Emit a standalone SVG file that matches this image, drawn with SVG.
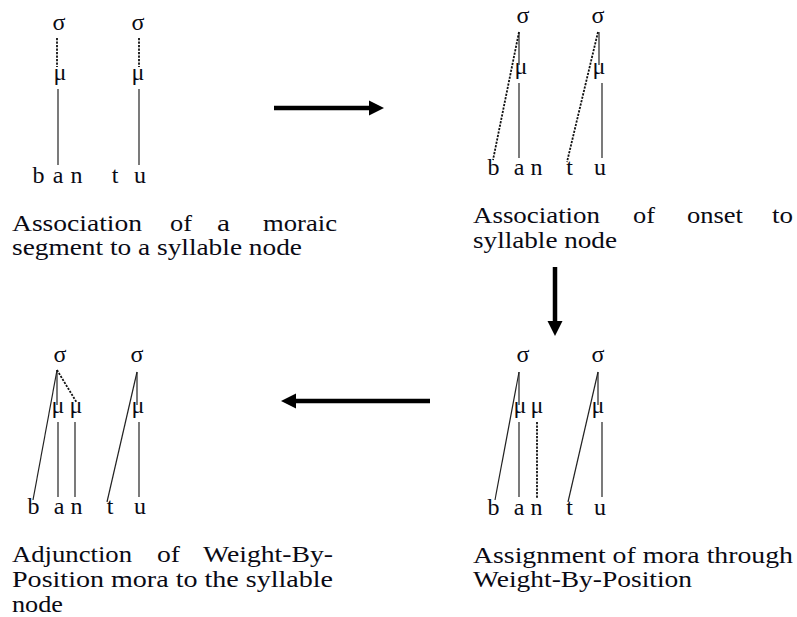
<svg xmlns="http://www.w3.org/2000/svg" width="797" height="617" viewBox="0 0 797 617">
<style>
text{font-family:"Liberation Serif","Times New Roman",Times,Tinos,"Noto Serif","Nimbus Roman","Nimbus Roman No9 L",FreeSerif,"DejaVu Serif",serif;fill:#0a0a14}
.s{font-size:24px;text-anchor:middle}
.c{font-size:24px}
.l{stroke:#222;stroke-width:1.2;fill:none}
.d{stroke:#111;stroke-width:1.8;stroke-dasharray:2.2 1.3;fill:none}
.a{stroke:#000;stroke-width:4.5;fill:none}
</style>
<defs>
<marker id="ah" markerUnits="userSpaceOnUse" markerWidth="16" markerHeight="16" refX="2" refY="8" orient="auto">
<path d="M0,0.5 L15,8 L0,15.5 Z" fill="#000"/>
</marker>
</defs>
<rect width="797" height="617" fill="#fff"/>

<g id="panel1">
<text class="s" x="59" y="30">σ</text>
<text class="s" x="138" y="30">σ</text>
<text class="s" x="60" y="80">μ</text>
<text class="s" x="138" y="80">μ</text>
<line class="d" x1="57" y1="38" x2="57" y2="67"/>
<line class="d" x1="139" y1="38" x2="139" y2="67"/>
<line class="l" x1="58" y1="89" x2="58" y2="165"/>
<line class="l" x1="139" y1="89" x2="139" y2="165"/>
<text class="s" x="38.5" y="183">b</text>
<text class="s" x="58" y="183">a</text>
<text class="s" x="76.5" y="183">n</text>
<text class="s" x="115" y="183">t</text>
<text class="s" x="140" y="183">u</text>
<text class="c" y="231"><tspan x="12" textLength="130" lengthAdjust="spacingAndGlyphs">Association</tspan><tspan x="170" textLength="22" lengthAdjust="spacingAndGlyphs">of</tspan><tspan x="217" textLength="13" lengthAdjust="spacingAndGlyphs">a</tspan><tspan x="263" textLength="74" lengthAdjust="spacingAndGlyphs">moraic</tspan></text>
<text class="c" x="12" y="255" textLength="290" lengthAdjust="spacingAndGlyphs">segment to a syllable node</text>
</g>

<g id="panel2">
<text class="s" x="523" y="23">σ</text>
<text class="s" x="598" y="23">σ</text>
<text class="s" x="521" y="74">μ</text>
<text class="s" x="599" y="74">μ</text>
<line class="l" x1="519" y1="32" x2="519" y2="65"/>
<line class="l" x1="519" y1="83" x2="519" y2="158"/>
<line class="d" x1="519" y1="32" x2="493" y2="160"/>
<line class="l" x1="599" y1="32" x2="599" y2="65"/>
<line class="l" x1="602" y1="83" x2="602" y2="158"/>
<line class="d" x1="598" y1="32" x2="567" y2="162"/>
<text class="s" x="493.5" y="175">b</text>
<text class="s" x="519" y="175">a</text>
<text class="s" x="536.5" y="175">n</text>
<text class="s" x="569.5" y="175">t</text>
<text class="s" x="600" y="175">u</text>
<text class="c" y="223"><tspan x="473" textLength="127" lengthAdjust="spacingAndGlyphs">Association</tspan><tspan x="633" textLength="22" lengthAdjust="spacingAndGlyphs">of</tspan><tspan x="687" textLength="56" lengthAdjust="spacingAndGlyphs">onset</tspan><tspan x="772" textLength="21" lengthAdjust="spacingAndGlyphs">to</tspan></text>
<text class="c" x="473" y="248" textLength="144" lengthAdjust="spacingAndGlyphs">syllable node</text>
</g>

<g id="panel3">
<text class="s" x="60" y="362">σ</text>
<text class="s" x="137" y="362">σ</text>
<text class="s" x="58" y="413">μ</text>
<text class="s" x="76" y="413">μ</text>
<text class="s" x="138" y="413">μ</text>
<line class="l" x1="57" y1="370" x2="33" y2="500"/>
<line class="l" x1="57" y1="370" x2="57" y2="405"/>
<line class="d" x1="57" y1="370" x2="77" y2="403"/>
<line class="l" x1="58" y1="422" x2="58" y2="497"/>
<line class="l" x1="75" y1="422" x2="75" y2="497"/>
<line class="l" x1="137" y1="372" x2="107" y2="502"/>
<line class="l" x1="137" y1="372" x2="137" y2="405"/>
<line class="l" x1="139" y1="422" x2="139" y2="497"/>
<text class="s" x="33.5" y="514">b</text>
<text class="s" x="59" y="514">a</text>
<text class="s" x="76.5" y="514">n</text>
<text class="s" x="110" y="514">t</text>
<text class="s" x="140" y="514">u</text>
<text class="c" y="562"><tspan x="12" textLength="120" lengthAdjust="spacingAndGlyphs">Adjunction</tspan><tspan x="157" textLength="23" lengthAdjust="spacingAndGlyphs">of</tspan><tspan x="203" textLength="130" lengthAdjust="spacingAndGlyphs">Weight-By-</tspan></text>
<text class="c" x="12" y="587" textLength="321" lengthAdjust="spacingAndGlyphs">Position mora to the syllable</text>
<text class="c" x="12" y="612" textLength="51" lengthAdjust="spacingAndGlyphs">node</text>
</g>

<g id="panel4">
<text class="s" x="523" y="362">σ</text>
<text class="s" x="598" y="362">σ</text>
<text class="s" x="520" y="413">μ</text>
<text class="s" x="537" y="413">μ</text>
<text class="s" x="598" y="413">μ</text>
<line class="l" x1="519" y1="372" x2="495" y2="500"/>
<line class="l" x1="519" y1="372" x2="519" y2="405"/>
<line class="l" x1="519" y1="422" x2="519" y2="497"/>
<line class="d" x1="537" y1="422" x2="537" y2="498"/>
<line class="l" x1="598" y1="372" x2="568" y2="502"/>
<line class="l" x1="598" y1="372" x2="598" y2="405"/>
<line class="l" x1="602" y1="422" x2="602" y2="497"/>
<text class="s" x="493.5" y="515">b</text>
<text class="s" x="519" y="515">a</text>
<text class="s" x="536.5" y="515">n</text>
<text class="s" x="569.5" y="515">t</text>
<text class="s" x="600" y="515">u</text>
<text class="c" x="473" y="563" textLength="320" lengthAdjust="spacingAndGlyphs">Assignment of mora through</text>
<text class="c" x="473" y="587" textLength="219" lengthAdjust="spacingAndGlyphs">Weight-By-Position</text>
</g>

<g id="connectors">
<line class="a" x1="274" y1="108" x2="371" y2="108" marker-end="url(#ah)"/>
<line class="a" x1="555" y1="267" x2="555" y2="323" marker-end="url(#ah)"/>
<line class="a" x1="430" y1="401" x2="294" y2="401" marker-end="url(#ah)"/>
</g>
</svg>
